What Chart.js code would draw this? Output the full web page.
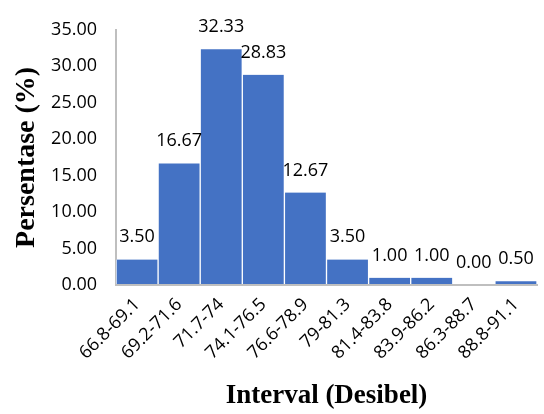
<!DOCTYPE html>
<html>
<head>
<meta charset="utf-8">
<script src="https://cdn.jsdelivr.net/npm/chart.js@4.4.1/dist/chart.umd.min.js"></script>
<style>
  html, body { margin: 0; padding: 0; background: #fff; }
  #wrap { width: 544px; height: 414px; position: relative; }
</style>
</head>
<body>
<div id="wrap"><canvas id="chart"></canvas></div>
<script>
// Frequency distribution of noise levels
const intervals = ['66.8-69.1', '69.2-71.6', '71.7-74', '74.1-76.5', '76.6-78.9',
                   '79-81.3', '81.4-83.8', '83.9-86.2', '86.3-88.7', '88.8-91.1']
const percentages = [3.50, 16.67, 32.33, 28.83, 12.67, 3.50, 1.00, 1.00, 0.00, 0.50]
const yTicks = [0, 5, 10, 15, 20, 25, 30, 35]

const labelFont = '"Open Sans", "Noto Sans", sans-serif'
const titleFont = '"Liberation Serif", "Times New Roman", serif'

// Draw value labels on top of each bar
const valueLabels = {
    id: 'valueLabels',
    afterDatasetsDraw(chart) {
        const ctx = chart.ctx
        const meta = chart.getDatasetMeta(0)
        ctx.save()
        ctx.font = '18px ' + labelFont
        ctx.fillStyle = '#000'
        ctx.textAlign = 'center'
        ctx.textBaseline = 'alphabetic'
        meta.data.forEach((bar, i) => {
            ctx.fillText(percentages[i].toFixed(2), bar.x, bar.y - 17)
        })
        ctx.restore()
    }
}

new Chart(document.getElementById('chart'), {
    type: 'bar',
    data: {
        labels: intervals,
        datasets: [{
            data: percentages,
            backgroundColor: '#4472c4',
            borderColor: '#ffffff',
            borderWidth: { top: 0, left: 1, right: 1, bottom: 0 },
            barPercentage: 1,
            categoryPercentage: 1
        }]
    },
    options: {
        responsive: true,
        maintainAspectRatio: false,
        animation: false,
        layout: { padding: { top: 18, right: 7, left: 0, bottom: 0 } },
        plugins: { legend: { display: false }, tooltip: { enabled: false } },
        scales: {
            x: {
                grid: { display: false, drawTicks: false },
                border: { color: '#bfbfbf', width: 2, z: 1 },
                ticks: {
                    color: '#000',
                    font: { family: labelFont, size: 18 },
                    minRotation: 45, maxRotation: 45,
                    padding: 9
                },
                title: {
                    display: true,
                    text: 'Interval (Desibel)',
                    color: '#000',
                    font: { family: titleFont, size: 27, weight: 'bold' },
                    padding: { top: 0, bottom: 2 }
                },
                afterFit(scale) { scale.height = 129 }
            },
            y: {
                min: 0, max: 35,
                afterBuildTicks(scale) { scale.ticks = yTicks.map(v => ({ value: v })) },
                grid: { display: false, drawTicks: false },
                border: { color: '#bfbfbf', width: 2 },
                ticks: {
                    color: '#000',
                    font: { family: labelFont, size: 18 },
                    padding: 19,
                    callback: v => v.toFixed(2)
                },
                title: {
                    display: true,
                    text: 'Persentase (%)',
                    color: '#000',
                    font: { family: titleFont, size: 28, weight: 'bold' },
                    padding: { top: 10, bottom: 0 }
                },
                afterFit(scale) { scale.width = 116 }
            }
        }
    },
    plugins: [valueLabels]
})
</script>
</body>
</html>
